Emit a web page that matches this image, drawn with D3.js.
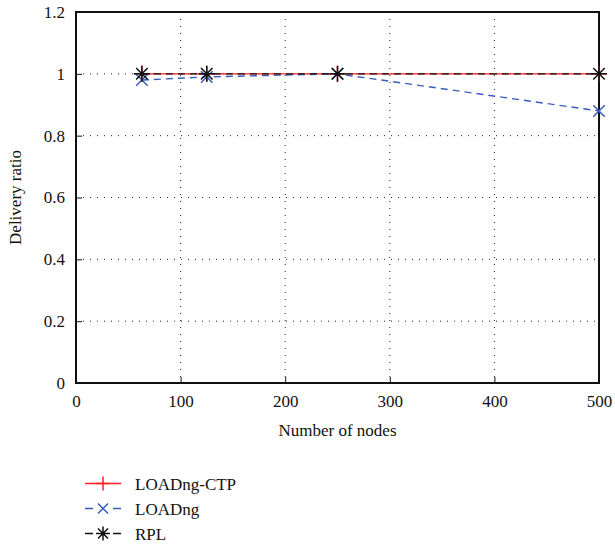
<!DOCTYPE html>
<html lang="en">
<head>
  <meta charset="UTF-8">
  <title>Delivery ratio</title>
  <style>
    body { margin: 0; background: #fff; }
    text { font-family: 'Liberation Serif', 'DejaVu Serif', serif; fill: #111; }
    .grid line { stroke: #222; stroke-width: 1; stroke-dasharray: 1 6; }
  </style>
  <script src="https://d3js.org/d3.v7.min.js"></script>
</head>
<body>
<svg width="615" height="550"></svg>
<script>
  const nodes = [63, 125, 250, 500];
  const loadngCtp = [1, 1, 1, 1];
  const loadng = [0.98, 0.99, 1.0, 0.88];
  const rpl = [1, 1, 1, 1];
  const xTicks = [0, 100, 200, 300, 400, 500];
  const yTicks = [0, 0.2, 0.4, 0.6, 0.8, 1, 1.2];

  const svg = d3.select("svg");
  const plotL = 76, plotR = 599, plotT = 12, plotB = 383;

  const x = d3.scaleLinear().domain([0, 500]).range([plotL, plotR]);
  const y = d3.scaleLinear().domain([0, 1.2]).range([plotB, plotT]);

  // dotted grid
  const grid = svg.append("g").attr("class", "grid");
  grid.selectAll(".gx").data(xTicks.slice(1, -1)).enter().append("line")
      .attr("x1", d => x(d)).attr("x2", d => x(d))
      .attr("y1", plotT).attr("y2", plotB);
  grid.selectAll(".gy").data(yTicks.slice(1, -1)).enter().append("line")
      .attr("x1", plotL).attr("x2", plotR)
      .attr("y1", d => y(d)).attr("y2", d => y(d));

  // axes with inward ticks
  const xAxis = svg.append("g").attr("transform", `translate(0,${plotB})`)
      .call(d3.axisBottom(x).tickValues(xTicks).tickSize(-6).tickPadding(12).tickFormat(d3.format("d")));
  const yAxis = svg.append("g").attr("transform", `translate(${plotL},0)`)
      .call(d3.axisLeft(y).tickValues(yTicks).tickSize(-6).tickPadding(11).tickFormat(d => String(+d.toFixed(1))));
  [xAxis, yAxis].forEach(a => {
    a.select(".domain").remove();
    a.selectAll(".tick line").attr("stroke", "#111").attr("stroke-width", 1);
    a.selectAll("text").style("font-family", "'Liberation Serif', serif").style("font-size", "17px").attr("fill", "#111");
  });

  // frame
  svg.append("rect").attr("x", plotL).attr("y", plotT)
      .attr("width", plotR - plotL).attr("height", plotB - plotT)
      .attr("fill", "none").attr("stroke", "#111").attr("stroke-width", 2);

  const series = [
    { name: "LOADng-CTP", values: loadngCtp, color: "#ff2020", dash: null, marker: "plus" },
    { name: "LOADng", values: loadng, color: "#3a5dbb", dash: "7 5", marker: "cross" },
    { name: "RPL", values: rpl, color: "#111", dash: "7 5", marker: "star" }
  ];

  function markerPath(type, s) {
    const p = d3.path();
    if (type === "plus" || type === "star") {
      p.moveTo(-s, 0); p.lineTo(s, 0);
      p.moveTo(0, -s); p.lineTo(0, s);
    }
    if (type === "cross" || type === "star") {
      const k = s * 0.72;
      p.moveTo(-k, -k); p.lineTo(k, k);
      p.moveTo(-k, k); p.lineTo(k, -k);
    }
    return p.toString();
  }

  const line = d3.line().x((d, i) => x(nodes[i])).y(d => y(d));

  series.forEach(s => {
    const g = svg.append("g");
    g.append("path").datum(s.values)
        .attr("d", line).attr("fill", "none")
        .attr("stroke", s.color).attr("stroke-width", 1.4)
        .attr("stroke-dasharray", s.dash);
    g.selectAll("path.m").data(s.values).enter().append("path")
        .attr("class", "m")
        .attr("transform", (d, i) => `translate(${x(nodes[i])},${y(d)})`)
        .attr("d", markerPath(s.marker, 8))
        .attr("stroke", s.color).attr("stroke-width", 1.5).attr("fill", "none");
  });

  // axis labels
  svg.append("text").attr("x", (plotL + plotR) / 2).attr("y", 436)
      .attr("text-anchor", "middle").style("font-size", "17px").text("Number of nodes");
  svg.append("text").attr("transform", `translate(21,${(plotT + plotB) / 2}) rotate(-90)`)
      .attr("text-anchor", "middle").style("font-size", "17px").text("Delivery ratio");

  // legend
  const legend = svg.append("g");
  series.forEach((s, i) => {
    const ly = 483.5 + i * 25;
    legend.append("line").attr("x1", 85).attr("x2", 121).attr("y1", ly).attr("y2", ly)
        .attr("stroke", s.color).attr("stroke-width", 1.4)
        .attr("stroke-dasharray", s.dash ? "8 20" : null);
    legend.append("path").attr("transform", `translate(103,${ly})`)
        .attr("d", markerPath(s.marker, 7))
        .attr("stroke", s.color).attr("stroke-width", 1.5).attr("fill", "none");
    legend.append("text").attr("x", 135).attr("y", ly + 6)
        .style("font-size", "17px").text(s.name);
  });
</script>
</body>
</html>
